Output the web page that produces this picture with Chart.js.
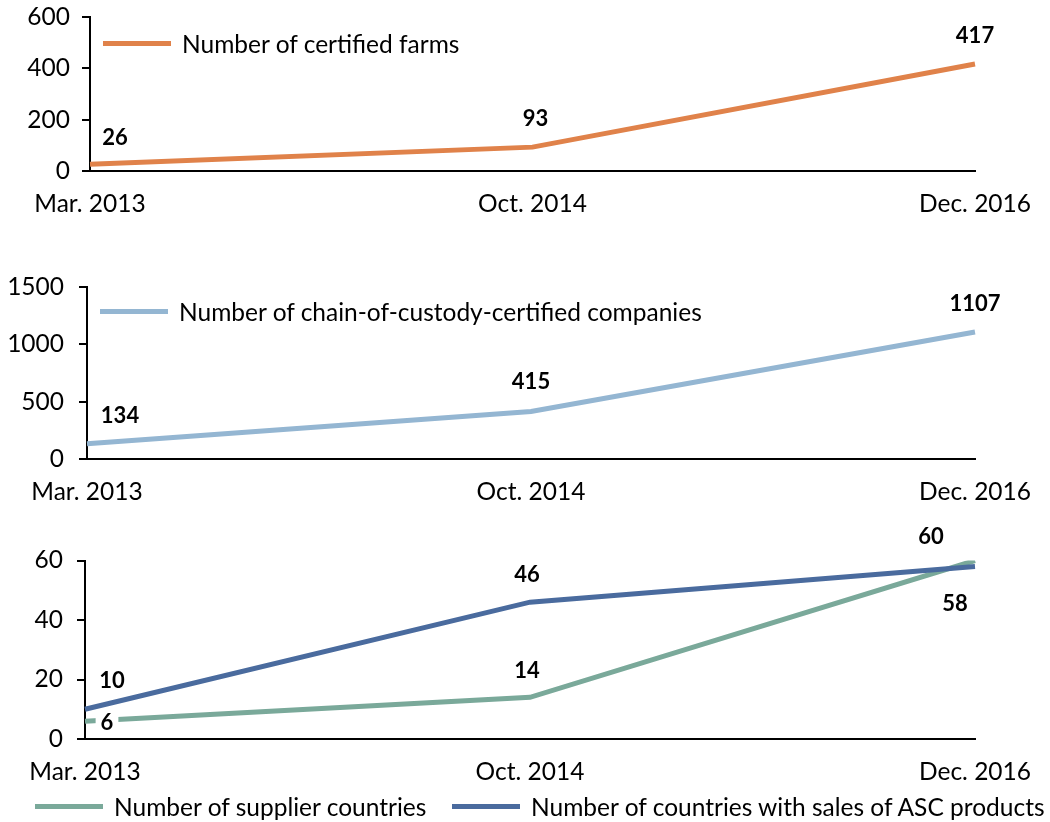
<!DOCTYPE html>
<html>
<head>
<meta charset="utf-8">
<script src="https://cdn.jsdelivr.net/npm/chart.js@4.4.1/dist/chart.umd.min.js"></script>
<style>
  body { margin: 0; background: #fff; width: 1050px; height: 822px; position: relative; overflow: hidden; font-family: Lato, sans-serif; }
  canvas { position: absolute; left: 0; }
  .legend-item { position: absolute; display: flex; align-items: center; height: 28px; font-size: 24.5px; color: #000; white-space: nowrap; }
  .legend-item .swatch { display: inline-block; width: 68px; height: 5px; margin-right: 11px; }
</style>
</head>
<body>
<canvas id="farms" width="1050" height="230" style="top:0px"></canvas>
<canvas id="coc" width="1050" height="270" style="top:240px"></canvas>
<canvas id="countries" width="1050" height="290" style="top:505px"></canvas>

<script>
const periods = ['Mar. 2013', 'Oct. 2014', 'Dec. 2016'];

const certifiedFarms = [26, 93, 417];
const cocCompanies = [134, 415, 1107];
const supplierCountries = [6, 14, 60];
const salesCountries = [10, 46, 58];

const farmTicks = [0, 200, 400, 600];
const cocTicks = [0, 500, 1000, 1500];
const countryTicks = [0, 20, 40, 60];

Chart.defaults.font.family = 'Lato';
Chart.defaults.font.size = 24.5;
Chart.defaults.color = '#000';

// writes each point's value next to it, on a white patch
const pointValues = {
  id: 'pointValues',
  afterDatasetsDraw(chart) {
    const ctx = chart.ctx;
    ctx.save();
    ctx.font = 'bold 22px Lato';
    ctx.textAlign = 'center';
    ctx.textBaseline = 'middle';
    chart.data.datasets.forEach((ds, i) => {
      const meta = chart.getDatasetMeta(i);
      meta.data.forEach((pt, j) => {
        const off = ds.valueOffsets[j];
        const text = String(ds.data[j]);
        const x = pt.x + off[0];
        const y = pt.y + off[1];
        const w = ctx.measureText(text).width;
        ctx.fillStyle = '#fff';
        ctx.fillRect(x - w / 2 - 5, y - 10, w + 10, 20);
        ctx.fillStyle = '#000';
        ctx.fillText(text, x, y + 1);
      });
    });
    ctx.restore();
  }
};

function line(label, data, color, valueOffsets, order) {
  return {
    label: label,
    data: data,
    borderColor: color,
    backgroundColor: color,
    borderWidth: 5,
    borderCapStyle: 'butt',
    pointRadius: 0,
    tension: 0,
    order: order || 0,
    valueOffsets: valueOffsets
  };
}

function makePanel(id, datasets, yTicks, box) {
  return new Chart(document.getElementById(id), {
    type: 'line',
    data: { labels: periods, datasets: datasets },
    options: {
      responsive: false,
      animation: false,
      layout: { padding: { top: box.top, right: 75, bottom: box.bottom, left: 0 } },
      plugins: { legend: { display: false }, tooltip: { enabled: false } },
      scales: {
        x: {
          offset: false,
          grid: { display: false },
          border: { display: true, color: '#000', width: 2 },
          ticks: { maxRotation: 0, autoSkip: false, padding: box.xPad },
          afterFit: s => { s.height = box.xHeight; s.paddingLeft = 0; s.paddingRight = 0; }
        },
        y: {
          min: yTicks[0],
          max: yTicks[yTicks.length - 1],
          afterBuildTicks: s => { s.ticks = yTicks.map(v => ({ value: v })); },
          grid: { drawOnChartArea: false, drawTicks: true, tickLength: 8, color: '#000', lineWidth: 2 },
          border: { display: true, color: '#000', width: 2 },
          ticks: { padding: box.yPad, callback: v => String(v) },
          afterFit: s => { s.width = box.left; s.paddingTop = 0; s.paddingBottom = 0; }
        }
      }
    },
    plugins: [pointValues]
  });
}

const farmsChart = makePanel('farms', [
  line('Number of certified farms', certifiedFarms, '#e0824a', [[25, -27], [3, -29], [0, -29]])
], farmTicks, { top: 17, bottom: 9, left: 90, xHeight: 50, xPad: 10, yPad: 12 });

const cocChart = makePanel('coc', [
  line('Number of chain-of-custody-certified companies', cocCompanies, '#94b6d2', [[33, -29], [0, -31], [0, -29]])
], cocTicks, { top: 47, bottom: 1, left: 87, xHeight: 50, xPad: 10, yPad: 15 });

const countriesChart = makePanel('countries', [
  line('Number of supplier countries', supplierCountries, '#7aa99a', [[22, 1], [-3, -27], [-44, -25]], 1),
  line('Number of countries with sales of ASC products', salesCountries, '#4a6b9e', [[27, -29], [-3, -28], [-20, 36]], 0)
], countryTicks, { top: 55.5, bottom: 6, left: 85, xHeight: 50, xPad: 10, yPad: 14 });

// legend rows built from the chart datasets
function addLegend(chart, spots) {
  chart.data.datasets.forEach((ds, i) => {
    const item = document.createElement('div');
    item.className = 'legend-item';
    item.style.left = spots[i][0] + 'px';
    item.style.top = spots[i][1] + 'px';
    const sw = document.createElement('span');
    sw.className = 'swatch';
    sw.style.background = ds.borderColor;
    const txt = document.createElement('span');
    txt.textContent = ds.label;
    item.appendChild(sw);
    item.appendChild(txt);
    document.body.appendChild(item);
  });
}

addLegend(farmsChart, [[103, 29]]);
addLegend(cocChart, [[100, 297]]);
addLegend(countriesChart, [[35, 792], [452, 792]]);
</script>
</body>
</html>
